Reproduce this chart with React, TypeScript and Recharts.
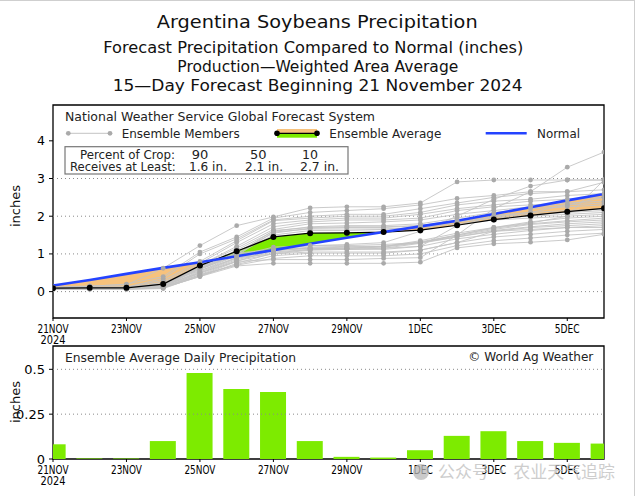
import React from 'react';
import {
  ComposedChart, Line, Area, Bar, XAxis, YAxis, ReferenceLine, ReferenceArea,
} from 'recharts';

// ---------- data ----------
const dayLabels = ['21NOV', '22NOV', '23NOV', '24NOV', '25NOV', '26NOV', '27NOV', '28NOV', '29NOV', '30NOV', '1DEC', '2DEC', '3DEC', '4DEC', '5DEC', '6DEC'];
const xTicks = [0, 2, 4, 6, 8, 10, 12, 14];
const topYTicks = [0, 1, 2, 3, 4];
const topGrid = [0, 1, 2, 3];
const botYTicks = [0, 0.25, 0.5];
const botGrid = [0.25, 0.5];

const ensembleAverage = [0.09, 0.1, 0.1, 0.2, 0.69, 1.07, 1.45, 1.55, 1.56, 1.58, 1.63, 1.76, 1.91, 2.02, 2.12, 2.21];
const normal = [0.16, 0.31, 0.47, 0.63, 0.78, 0.94, 1.1, 1.27, 1.43, 1.58, 1.73, 1.88, 2.06, 2.24, 2.42, 2.59];
const dailyPrecip = [0.082, 0.003, 0.003, 0.1, 0.48, 0.39, 0.373, 0.1, 0.012, 0.008, 0.049, 0.129, 0.155, 0.1, 0.09, 0.086];

const members = [
  [0.12, 0.15, 0.18, 0.62, 1.22, 1.75, 1.98, 2.22, 2.25, 2.25, 2.35, 2.91, 2.96, 2.96, 2.96, 2.96],
  [0.1, 0.14, 0.2, 0.4, 1.05, 1.45, 1.95, 2.1, 2.15, 2.2, 2.3, 2.47, 2.55, 2.65, 2.65, 2.7],
  [0.08, 0.1, 0.12, 0.35, 1.0, 1.4, 1.9, 2.0, 2.05, 2.05, 2.2, 2.35, 2.5, 2.6, 2.65, 2.9],
  [0.1, 0.12, 0.12, 0.3, 0.8, 1.35, 1.88, 1.95, 2.0, 2.0, 2.1, 2.3, 2.4, 2.45, 2.55, 2.6],
  [0.06, 0.08, 0.08, 0.25, 0.75, 1.3, 1.8, 1.9, 1.95, 1.95, 2.05, 2.2, 2.3, 2.4, 2.45, 2.5],
  [0.1, 0.1, 0.1, 0.2, 0.7, 1.2, 1.72, 1.85, 1.9, 1.9, 1.95, 2.15, 2.25, 2.3, 2.35, 2.4],
  [0.08, 0.1, 0.1, 0.18, 0.7, 1.15, 1.65, 1.8, 1.82, 1.85, 1.9, 2.05, 2.15, 2.25, 2.3, 2.35],
  [0.1, 0.1, 0.1, 0.15, 0.65, 1.1, 1.6, 1.72, 1.75, 1.75, 1.8, 1.95, 2.1, 2.2, 2.25, 2.3],
  [0.06, 0.08, 0.08, 0.12, 0.62, 1.05, 1.55, 1.68, 1.7, 1.7, 1.75, 1.9, 2.02, 2.1, 2.15, 2.2],
  [0.1, 0.1, 0.1, 0.2, 0.6, 1.0, 1.5, 1.62, 1.62, 1.65, 1.7, 1.85, 1.98, 2.05, 2.1, 2.15],
  [0.08, 0.08, 0.08, 0.15, 0.58, 1.0, 1.62, 1.7, 1.72, 1.72, 1.75, 1.85, 1.95, 2.0, 2.05, 2.1],
  [0.1, 0.1, 0.1, 0.12, 0.55, 0.95, 1.58, 1.66, 1.66, 1.66, 1.7, 1.8, 1.9, 1.95, 2.0, 2.05],
  [0.08, 0.1, 0.1, 0.15, 0.52, 0.9, 1.1, 1.18, 1.2, 1.2, 1.3, 1.5, 1.7, 1.85, 1.95, 2.0],
  [0.06, 0.06, 0.06, 0.1, 0.5, 0.88, 1.08, 1.15, 1.18, 1.2, 1.32, 1.5, 1.68, 1.8, 1.88, 1.95],
  [0.1, 0.1, 0.1, 0.12, 0.48, 0.85, 1.05, 1.12, 1.15, 1.18, 1.3, 1.48, 1.65, 1.78, 1.85, 1.9],
  [0.08, 0.08, 0.08, 0.1, 0.45, 0.82, 1.0, 1.1, 1.12, 1.15, 1.28, 1.45, 1.62, 1.72, 1.8, 1.85],
  [0.1, 0.1, 0.1, 0.12, 0.42, 0.8, 1.12, 1.22, 1.22, 1.25, 1.3, 1.45, 1.6, 1.7, 1.75, 1.8],
  [0.08, 0.08, 0.08, 0.1, 0.4, 0.75, 1.02, 1.12, 1.12, 1.12, 1.2, 1.4, 1.52, 1.62, 1.7, 1.75],
  [0.06, 0.06, 0.06, 0.08, 0.42, 0.72, 0.95, 1.02, 1.02, 1.02, 1.1, 1.3, 1.45, 1.52, 1.6, 1.65],
  [0.1, 0.1, 0.1, 0.1, 0.45, 0.7, 0.88, 0.95, 0.95, 0.95, 1.0, 1.22, 1.35, 1.42, 1.5, 1.55],
  [0.08, 0.08, 0.08, 0.1, 0.4, 0.68, 0.75, 0.75, 0.75, 0.75, 0.78, 1.16, 1.27, 1.31, 1.37, 1.52],
  [0.1, 0.1, 0.1, 0.15, 0.5, 0.8, 0.85, 0.85, 0.85, 0.88, 0.9, 1.5, 2.2, 2.65, 3.3, 3.7],
  [0.1, 0.12, 0.12, 0.18, 0.6, 0.95, 1.18, 1.22, 1.25, 1.3, 1.6, 2.0, 2.45, 2.8, 2.96, 2.96],
  [0.1, 0.1, 0.1, 0.15, 0.65, 1.02, 1.12, 1.15, 1.15, 1.2, 1.35, 1.55, 1.7, 1.82, 2.0, 2.96],
  [0.08, 0.1, 0.1, 0.2, 0.62, 1.0, 1.1, 1.15, 1.15, 1.15, 1.2, 1.75, 2.0, 2.1, 2.3, 2.5],
  [0.1, 0.1, 0.1, 0.25, 0.55, 0.9, 1.0, 1.05, 1.05, 1.05, 1.1, 1.3, 1.6, 1.65, 1.7, 1.7],
];

// ---------- tables built from data ----------
const memberRows = members.map((m) => m.map((v, i) => ({ d: i, v })));
const avgRows = ensembleAverage.map((v, i) => ({ d: i, v }));
const normalRows = normal.map((v, i) => ({ d: i, v }));
const dailyRows = dailyPrecip.map((v, i) => ({ d: i, v }));

const fillRows: { d: number; avg: number; nrm: number }[] = [];
for (let i = 0; i < ensembleAverage.length; i++) {
  fillRows.push({ d: i, avg: ensembleAverage[i], nrm: normal[i] });
  if (i < ensembleAverage.length - 1) {
    const a = ensembleAverage[i] - normal[i];
    const b = ensembleAverage[i + 1] - normal[i + 1];
    if (a * b < 0) {
      const t = a / (a - b);
      const v = ensembleAverage[i] + t * (ensembleAverage[i + 1] - ensembleAverage[i]);
      fillRows.push({ d: i + t, avg: v, nrm: v });
    }
  }
}

const FONT = '"DejaVu Sans", Verdana, sans-serif';
const TICKFONT = '"DejaVu Sans Condensed", "Liberation Sans Narrow", "DejaVu Sans", sans-serif';
const ORANGE = '#F7C27C';
const GREEN = '#7DEB00';
const BLUE = '#2443FF';
const MEMBER_LINE = '#C4C4C4';
const MEMBER_DOT = '#AAAAAA';

const makeXTick = (d1: number, d2: number) => (props: any) => {
  const { x, y, payload } = props;
  const lab = dayLabels[payload.value] ?? '';
  return (
    <g>
      <text x={x} y={y + d1} textAnchor="middle" fontSize={12} fontFamily={TICKFONT}
        textLength={lab.length * 6.2} lengthAdjust="spacingAndGlyphs" fill="#000">{lab}</text>
      {payload.value === 0 && (
        <text x={x} y={y + d2} textAnchor="middle" fontSize={12} fontFamily={TICKFONT}
          textLength={25} lengthAdjust="spacingAndGlyphs" fill="#000">2024</text>
      )}
    </g>
  );
};

const T = ({ x, y, w, size = 11.5, children, fill = '#000' }: any) => (
  <text x={x} y={y} fontSize={size} fontFamily={FONT} fill={fill}
    textLength={w} lengthAdjust="spacingAndGlyphs">{children}</text>
);

export default function App() {
  return (
    <div style={{ position: 'absolute', left: 0, top: 0, width: 636, height: 496, background: '#fff', overflow: 'hidden' }}>
      {/* Top chart: cumulative precipitation */}
      <div style={{ position: 'absolute', left: 0, top: 0 }}>
        <ComposedChart width={636} height={345} margin={{ top: 105, right: 32, bottom: 0, left: 13 }}>
          <XAxis dataKey="d" type="number" domain={[0, 15]} ticks={xTicks} allowDataOverflow
            axisLine={false} tickLine={{ stroke: '#000' }} tickSize={3} tickMargin={2} height={27}
            tick={makeXTick(10, 20.5)} interval={0} />
          <YAxis type="number" domain={[-0.7, 4.95]} ticks={topYTicks} allowDataOverflow width={40}
            axisLine={false} tickLine={{ stroke: '#000' }} tickSize={4} tickMargin={4}
            tick={{ fontSize: 12.5, fill: '#000', fontFamily: FONT }} />
          {topGrid.map((g) => (
            <ReferenceLine key={g} y={g} stroke="#8a8a8a" strokeDasharray="1 3" strokeWidth={1} />
          ))}
          <Area data={fillRows} type="linear" dataKey={(r: any) => [r.avg, Math.max(r.avg, r.nrm)]}
            stroke="none" fill={ORANGE} fillOpacity={1} isAnimationActive={false} dot={false} activeDot={false} />
          <Area data={fillRows} type="linear" dataKey={(r: any) => [r.nrm, Math.max(r.avg, r.nrm)]}
            stroke="none" fill={GREEN} fillOpacity={1} isAnimationActive={false} dot={false} activeDot={false} />
          {memberRows.map((rows, k) => (
            <Line key={k} data={rows} dataKey="v" type="linear" stroke={MEMBER_LINE} strokeWidth={0.9}
              dot={{ r: 2.4, fill: MEMBER_DOT, stroke: 'none' }} isAnimationActive={false} />
          ))}
          <Line data={avgRows} dataKey="v" type="linear" stroke="#000" strokeWidth={1.2}
            dot={{ r: 3, fill: '#000', stroke: 'none' }} isAnimationActive={false} zIndex={460} />
          <Line data={normalRows} dataKey="v" type="linear" stroke={BLUE} strokeWidth={2.6}
            dot={false} isAnimationActive={false} zIndex={470} />
          <ReferenceArea x1={0} x2={15} y1={-0.7} y2={4.95} fill="none" stroke="#000" strokeWidth={1.3} />
        </ComposedChart>
      </div>

      {/* Bottom chart: daily precipitation */}
      <div style={{ position: 'absolute', left: 0, top: 0 }}>
        <ComposedChart width={636} height={496} data={dailyRows} margin={{ top: 346, right: 32, bottom: 7, left: 13 }}>
          <XAxis dataKey="d" type="number" domain={[0, 15]} ticks={xTicks} allowDataOverflow
            axisLine={false} tickLine={{ stroke: '#000' }} tickSize={3} tickMargin={2} height={30}
            tick={makeXTick(9.5, 20.5)} interval={0} />
          <YAxis type="number" domain={[0, 0.63]} ticks={botYTicks} allowDataOverflow width={40}
            axisLine={false} tickLine={{ stroke: '#000' }} tickSize={4} tickMargin={4}
            tick={{ fontSize: 13, fill: '#000', fontFamily: FONT }} />
          {botGrid.map((g) => (
            <ReferenceLine key={g} y={g} stroke="#8a8a8a" strokeDasharray="1 3" strokeWidth={1} />
          ))}
          <Bar dataKey="v" fill={GREEN} barSize={26} isAnimationActive={false} />
          <ReferenceArea x1={0} x2={15} y1={0} y2={0.63} fill="none" stroke="#000" strokeWidth={1.3} />
        </ComposedChart>
      </div>

      {/* Titles, legends, labels */}
      <svg width={636} height={496} style={{ position: 'absolute', left: 0, top: 0, pointerEvents: 'none' }}>
        <line x1={0} y1={0.5} x2={634} y2={0.5} stroke="#cfcfcf" />
        <line x1={634.5} y1={0} x2={634.5} y2={496} stroke="#cfcfcf" />

        <T x={156.7} y={28.3} w={321} size={17} fill="#111">Argentina Soybeans Precipitation</T>
        <T x={103.3} y={53.3} w={420} size={15} fill="#111">Forecast Precipitation Compared to Normal (inches)</T>
        <T x={177.3} y={71.7} w={281} size={15} fill="#111">Production—Weighted Area Average</T>
        <T x={112.7} y={90.7} w={410} size={15} fill="#111">15—Day Forecast Beginning 21 November 2024</T>

        <T x={65} y={121} w={310} size={11.5} fill="#222">National Weather Service Global Forecast System</T>
        <line x1={68.3} y1={133.3} x2={110} y2={133.3} stroke={MEMBER_LINE} strokeWidth={1} />
        <circle cx={68.3} cy={133.3} r={2.4} fill={MEMBER_DOT} />
        <circle cx={110} cy={133.3} r={2.4} fill={MEMBER_DOT} />
        <T x={121.7} y={137.5} w={118} size={11.5} fill="#222">Ensemble Members</T>
        <rect x={277} y={129} width={40} height={4.3} fill={ORANGE} />
        <rect x={277} y={133.3} width={40} height={4.4} fill={GREEN} />
        <line x1={277} y1={133.3} x2={317} y2={133.3} stroke="#000" strokeWidth={1.2} />
        <circle cx={277} cy={133.3} r={2.8} fill="#000" />
        <circle cx={317} cy={133.3} r={2.8} fill="#000" />
        <T x={329.3} y={137.5} w={112} size={11.5} fill="#222">Ensemble Average</T>
        <line x1={485.7} y1={133.3} x2={526.7} y2={133.3} stroke={BLUE} strokeWidth={2.6} />
        <T x={537} y={137.5} w={43} size={11.5} fill="#222">Normal</T>

        <rect x={65} y={146.7} width={283} height={27.3} fill="#fff" stroke="#777" strokeWidth={1.2} />
        <T x={80} y={159.3} w={95} size={11.5} fill="#222">Percent of Crop:</T>
        <T x={191.7} y={159.3} w={16.6} size={11.5} fill="#222">90</T>
        <T x={250} y={159.3} w={16.6} size={11.5} fill="#222">50</T>
        <T x={302} y={159.3} w={16} size={11.5} fill="#222">10</T>
        <T x={70} y={170.7} w={105.7} size={11.5} fill="#222">Receives at Least:</T>
        <T x={189} y={170.7} w={38} size={11.5} fill="#222">1.6 in.</T>
        <T x={245} y={170.7} w={38} size={11.5} fill="#222">2.1 in.</T>
        <T x={300} y={170.7} w={39} size={11.5} fill="#222">2.7 in.</T>

        <T x={65} y={361.7} w={231} size={12} fill="#222">Ensemble Average Daily Precipitation</T>
        <T x={468.3} y={361} w={125} size={12} fill="#222">© World Ag Weather</T>

        <text transform="translate(19.5,206) rotate(-90)" textAnchor="middle" fontSize={13} fontFamily={FONT} fill="#111">inches</text>
        <text transform="translate(19.5,402) rotate(-90)" textAnchor="middle" fontSize={13} fontFamily={FONT} fill="#111">inches</text>

        {/* watermark */}
        <g opacity={0.75}>
          <circle cx={421} cy={472} r={8} fill="#b9b9b9" />
          <text x={438} y={478} fontSize={16.5} fontFamily='"Noto Sans CJK SC", sans-serif' fill="#bdbdbd"
            textLength={177} lengthAdjust="spacingAndGlyphs">公众号 · 农业天气追踪</text>
        </g>
      </svg>
    </div>
  );
}
